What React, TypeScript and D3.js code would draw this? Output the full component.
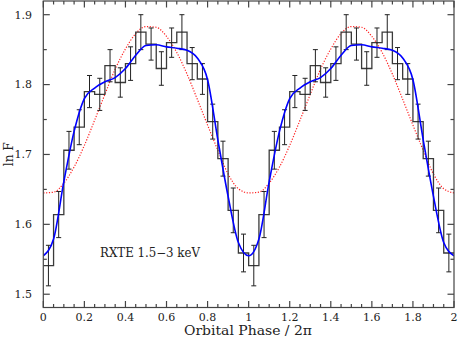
import React from 'react';
import * as d3 from 'd3';

// one orbital cycle, 20 bins of 0.05 in phase (plotted twice)
const binWidth = 0.05;
const fluxBins = [1.541, 1.614, 1.706, 1.739, 1.790, 1.786, 1.827, 1.803, 1.830, 1.875,
  1.858, 1.823, 1.860, 1.875, 1.830, 1.808, 1.747, 1.694, 1.620, 1.559];
const fluxErr = [0.029, 0.033, 0.027, 0.025, 0.023, 0.023, 0.023, 0.021, 0.024, 0.025,
  0.023, 0.024, 0.021, 0.025, 0.023, 0.022, 0.025, 0.025, 0.032, 0.027];

// model curves sampled every 0.05 in phase, 0..1
const modelPhase = [0, 0.05, 0.1, 0.15, 0.2, 0.25, 0.3, 0.35, 0.4, 0.45, 0.5,
  0.55, 0.6, 0.65, 0.7, 0.75, 0.8, 0.85, 0.9, 0.95, 1.0];
const blueModel = [1.555, 1.579, 1.661, 1.733, 1.780, 1.795, 1.804, 1.810, 1.823, 1.842, 1.856,
  1.857, 1.854, 1.852, 1.849, 1.838, 1.807, 1.721, 1.640, 1.574, 1.555];
const redModel = [1.645, 1.646, 1.659, 1.682, 1.713, 1.749, 1.786, 1.822, 1.851, 1.873, 1.883,
  1.882, 1.869, 1.846, 1.815, 1.779, 1.742, 1.706, 1.672, 1.651, 1.645];

const cycles = [0, 1];
const xTickLabels = ['0', '0.2', '0.4', '0.6', '0.8', '1', '1.2', '1.4', '1.6', '1.8', '2'];
const yTickLabels = ['1.5', '1.6', '1.7', '1.8', '1.9'];

const W = 458;
const H = 340;
const left = 43.3, right = 454, top = 1, bottom = 307.5;
const font = '"DejaVu Serif", serif';
const axisColor = '#444';

export default function App() {
  const x = d3.scaleLinear().domain([0, 2]).range([left, right]);
  const y = d3.scaleLinear().domain([1.481, 1.9196]).range([bottom, top]);

  // histogram points for both cycles
  const bins = cycles.flatMap(c => fluxBins.map((v, i) => ({
    x0: c + i * binWidth, v, e: fluxErr[i]
  })));
  const stepPts: [number, number][] = bins.map(b => [b.x0, b.v]);
  stepPts.push([2, bins[bins.length - 1].v]);
  const stepLine = d3.line<[number, number]>()
    .x(d => x(d[0])).y(d => y(d[1])).curve(d3.curveStepAfter);

  const curvePts = (vals: number[]) => {
    const pts: [number, number][] = [];
    cycles.forEach(c => modelPhase.forEach((p, i) => {
      if (c > 0 && i === 0) return;
      pts.push([c + p, vals[i]]);
    }));
    return pts;
  };
  const smooth = d3.line<[number, number]>()
    .x(d => x(d[0])).y(d => y(d[1])).curve(d3.curveMonotoneX);

  const xMinor = d3.range(0, 2.0001, 0.05);
  const xMajor = d3.range(0, 2.0001, 0.2);
  const yMinor = d3.range(1.5, 1.9001, 0.05);
  const yMajor = d3.range(1.5, 1.9001, 0.1);

  return (
    <div style={{ position: 'fixed', left: 0, top: 0 }}>
      <svg width={W} height={H} style={{ display: 'block', background: '#fff' }}>
        <defs>
          <clipPath id="plot">
            <rect x={left} y={top} width={right - left} height={bottom - top} />
          </clipPath>
        </defs>

        <g clipPath="url(#plot)">
          <path d={smooth(curvePts(redModel)) || ''} fill="none" stroke="#ff2020"
            strokeWidth={1.2} strokeDasharray="1.2,1.6" />
          <path d={stepLine(stepPts) || ''} fill="none" stroke="#3a3a3a" strokeWidth={1.3} />
          {bins.map((b, i) => {
            const cx = x(b.x0 + binWidth / 2);
            const y1 = y(b.v + b.e), y2 = y(b.v - b.e);
            return (
              <g key={i} stroke="#222" strokeWidth={1}>
                <line x1={cx} x2={cx} y1={y1} y2={y2} />
                <line x1={cx - 2.5} x2={cx + 2.5} y1={y1} y2={y1} />
                <line x1={cx - 2.5} x2={cx + 2.5} y1={y2} y2={y2} />
              </g>
            );
          })}
          <path d={smooth(curvePts(blueModel)) || ''} fill="none" stroke="#0000ff" strokeWidth={1.6} />
        </g>

        {/* frame + ticks */}
        <g stroke={axisColor} strokeWidth={1.2}>
          <rect x={left} y={top} width={right - left} height={bottom - top} fill="none" />
          {xMinor.map((t, i) => {
            const major = xMajor.some(m => Math.abs(m - t) < 1e-6);
            const len = major ? 6.5 : 3.5;
            return (
              <g key={'xt' + i}>
                <line x1={x(t)} x2={x(t)} y1={bottom} y2={bottom - len} />
                <line x1={x(t)} x2={x(t)} y1={top} y2={top + len} />
              </g>
            );
          })}
          {yMinor.map((t, i) => {
            const major = yMajor.some(m => Math.abs(m - t) < 1e-6);
            const len = major ? 6.5 : 3.5;
            return (
              <g key={'yt' + i}>
                <line x1={left} x2={left + len} y1={y(t)} y2={y(t)} />
                <line x1={right} x2={right - len} y1={y(t)} y2={y(t)} />
              </g>
            );
          })}
        </g>

        <g fontFamily={font} fontSize={11} fill="#222">
          {xMajor.map((t, i) => (
            <text key={'xl' + i} x={x(t)} y={321} textAnchor="middle">{xTickLabels[i]}</text>
          ))}
          {yMajor.map((t, i) => (
            <text key={'yl' + i} x={32} y={y(t)} dy="0.35em" textAnchor="end">{yTickLabels[i]}</text>
          ))}
        </g>

        <g fontFamily={font} fontSize={12} fill="#222">
          <text x={184} y={335} textLength={128} lengthAdjust="spacingAndGlyphs">Orbital Phase / 2π</text>
          <text transform={`translate(13,${(top + bottom) / 2}) rotate(-90)`} textAnchor="middle"
            textLength={24} lengthAdjust="spacingAndGlyphs">ln F</text>
          <text x={100} y={257} textLength={100} lengthAdjust="spacingAndGlyphs">RXTE 1.5−3 keV</text>
        </g>
      </svg>
    </div>
  );
}
